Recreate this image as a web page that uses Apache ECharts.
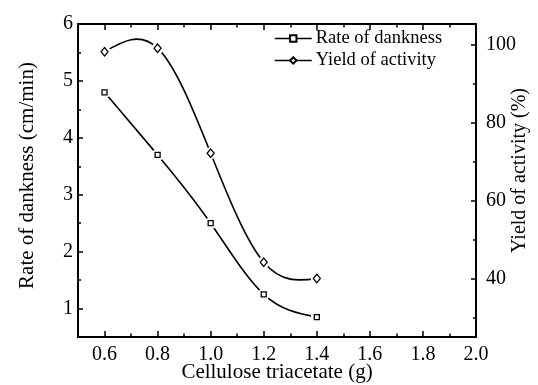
<!DOCTYPE html>
<html>
<head>
<meta charset="utf-8">
<script src="https://cdn.jsdelivr.net/npm/echarts@6/dist/echarts.min.js"></script>
<style>
  html, body { margin: 0; padding: 0; background: #fff; }
  #main { width: 538px; height: 385px; }
</style>
</head>
<body>
<div id="main"></div>
<script>
// cellulose triacetate amount (g)
const celluloseMass = [0.6, 0.8, 1.0, 1.2, 1.4];
// rate of dankness (cm/min), left axis
const rateOfDankness = [4.8, 3.7, 2.5, 1.25, 0.85];
// yield of activity (%), right axis
const yieldOfActivity = [98.3, 99.2, 72.2, 44.2, 40.0];

const xMajorTicks = [0.6, 0.8, 1.0, 1.2, 1.4, 1.6, 1.8, 2.0];
const leftMajorTicks = [1, 2, 3, 4, 5, 6];
const rightMajorTicks = [40, 60, 80, 100];
const rightMinorTicks = [30, 50, 70, 90];

const serif = 'Liberation Serif';
const ink = '#000';

const chartDom = document.getElementById('main');
const myChart = echarts.init(chartDom, null, { renderer: 'canvas' });

const pairs = (xs, ys) => xs.map((x, i) => [x, ys[i]]);

// natural cubic spline through pixel points, one bezier per segment
function splineSegments(pts) {
    const n = pts.length;
    const h = [], m = new Array(n).fill(0);
    for (let i = 0; i < n - 1; i++) h.push(pts[i + 1][0] - pts[i][0]);
    if (n > 2) {
        const a = [], b = [], c = [], d = [];
        for (let i = 1; i < n - 1; i++) {
            a.push(h[i - 1]);
            b.push(2 * (h[i - 1] + h[i]));
            c.push(h[i]);
            d.push(6 * ((pts[i + 1][1] - pts[i][1]) / h[i] - (pts[i][1] - pts[i - 1][1]) / h[i - 1]));
        }
        const k = b.length;
        for (let i = 1; i < k; i++) {
            const w = a[i] / b[i - 1];
            b[i] -= w * c[i - 1];
            d[i] -= w * d[i - 1];
        }
        m[k] = d[k - 1] / b[k - 1];
        for (let i = k - 2; i >= 0; i--) m[i + 1] = (d[i] - c[i] * m[i + 2]) / b[i];
    }
    const segs = [];
    for (let i = 0; i < n - 1; i++) {
        const [x0, y0] = pts[i], [x1, y1] = pts[i + 1], hi = h[i];
        const s = (y1 - y0) / hi;
        const d0 = s - hi * (2 * m[i] + m[i + 1]) / 6;
        const d1 = s + hi * (m[i] + 2 * m[i + 1]) / 6;
        segs.push({
            x1: x0, y1: y0, x2: x1, y2: y1,
            cpx1: x0 + hi / 3, cpy1: y0 + d0 * hi / 3,
            cpx2: x1 - hi / 3, cpy2: y1 - d1 * hi / 3
        });
    }
    return segs;
}

function curveSeries(name, ys, yAxisIndex) {
    return {
        name: name, type: 'custom', coordinateSystem: 'cartesian2d',
        xAxisIndex: 0, yAxisIndex: yAxisIndex, z: 1, silent: true,
        data: pairs(celluloseMass, ys),
        renderItem: function (params, api) {
            const i = params.dataIndex;
            if (i >= celluloseMass.length - 1) return;
            const pts = celluloseMass.map((x, j) => api.coord([x, ys[j]]));
            const seg = splineSegments(pts)[i];
            return {
                type: 'bezierCurve',
                shape: seg,
                style: { stroke: ink, lineWidth: 1.6, fill: null }
            };
        }
    };
}

// white halo under each marker, so the curve stops short of it
function haloSeries(name, ys, yAxisIndex) {
    return {
        name: name, type: 'scatter', xAxisIndex: 0, yAxisIndex: yAxisIndex, z: 2, silent: true,
        symbol: 'circle', symbolSize: 12,
        itemStyle: { color: '#fff', opacity: 1 },
        data: pairs(celluloseMass, ys)
    };
}

const axisLineStyle = { show: true, lineStyle: { color: ink, width: 2 } };
const hiddenLine = { show: false };

const option = {
    animation: false,
    backgroundColor: '#fff',
    grid: { left: 78, right: 62, top: 24, bottom: 48, containLabel: false, outerBoundsMode: 'none' },
    legend: {
        left: 269,
        top: 24,
        orient: 'vertical',
        itemGap: 3,
        itemWidth: 37,
        itemHeight: 8,
        lineStyle: { opacity: 1, color: ink, width: 1.5 },
        textStyle: { fontFamily: serif, fontSize: 18.5, color: ink, padding: [0, 0, 0, -1] },
        data: ['Rate of dankness', 'Yield of activity']
    },
    xAxis: [
        {
            type: 'value', position: 'bottom', min: 0.5, max: 2.0,
            axisLine: axisLineStyle,
            splitLine: { show: false },
            axisTick: { inside: true, length: 6, customValues: xMajorTicks, lineStyle: { color: ink, width: 1.5 } },
            axisLabel: {
                customValues: xMajorTicks, margin: 8,
                formatter: v => v.toFixed(1),
                fontFamily: serif, fontSize: 20, color: ink
            },
            name: 'Cellulose triacetate (g)', nameLocation: 'middle', nameGap: 25, nameMoveOverlap: false,
            nameTextStyle: { fontFamily: serif, fontSize: 21, color: ink }
        },
        {
            type: 'value', position: 'bottom', min: 0.5, max: 2.0, interval: 0.1,
            axisLine: hiddenLine, splitLine: { show: false }, axisLabel: { show: false },
            axisTick: { inside: true, length: 3.5, lineStyle: { color: ink, width: 1.5 } }
        },
        {
            type: 'value', position: 'top', min: 0.5, max: 2.0,
            axisLine: axisLineStyle, splitLine: { show: false }, axisLabel: { show: false },
            axisTick: { inside: true, length: 6, customValues: xMajorTicks, lineStyle: { color: ink, width: 1.5 } }
        },
        {
            type: 'value', position: 'top', min: 0.5, max: 2.0, interval: 0.1,
            axisLine: hiddenLine, splitLine: { show: false }, axisLabel: { show: false },
            axisTick: { inside: true, length: 3.5, lineStyle: { color: ink, width: 1.5 } }
        }
    ],
    yAxis: [
        {
            type: 'value', position: 'left', min: 0.5, max: 6,
            axisLine: axisLineStyle, splitLine: { show: false },
            axisTick: { inside: true, length: 5, customValues: leftMajorTicks, lineStyle: { color: ink, width: 1.5 } },
            axisLabel: { customValues: leftMajorTicks, margin: 5, fontFamily: serif, fontSize: 20, color: ink },
            name: 'Rate of dankness (cm/min)', nameLocation: 'middle', nameGap: 40, nameRotate: 90, nameMoveOverlap: false,
            nameTextStyle: { fontFamily: serif, fontSize: 21, color: ink, padding: [0, 0, 0, 10] }
        },
        {
            type: 'value', position: 'left', min: 0.5, max: 6, interval: 0.5,
            axisLine: hiddenLine, splitLine: { show: false }, axisLabel: { show: false },
            axisTick: { inside: true, length: 3, lineStyle: { color: ink, width: 1.5 } }
        },
        {
            type: 'value', position: 'right', min: 25, max: 105.4,
            axisLine: axisLineStyle, splitLine: { show: false },
            axisTick: { inside: true, length: 5, customValues: rightMajorTicks, lineStyle: { color: ink, width: 1.5 } },
            axisLabel: { customValues: rightMajorTicks, margin: 10, fontFamily: serif, fontSize: 20, color: ink },
            name: 'Yield of activity (%)', nameLocation: 'middle', nameGap: 34, nameRotate: 90, nameMoveOverlap: false,
            nameTextStyle: { fontFamily: serif, fontSize: 20, color: ink, padding: [0, 0, 0, 20] }
        },
        {
            type: 'value', position: 'right', min: 25, max: 105.4,
            axisLine: hiddenLine, splitLine: { show: false }, axisLabel: { show: false },
            axisTick: { inside: true, length: 3, customValues: rightMinorTicks, lineStyle: { color: ink, width: 1.5 } }
        }
    ],
    series: [
        curveSeries('rate curve', rateOfDankness, 0),
        curveSeries('yield curve', yieldOfActivity, 2),
        haloSeries('rate halo', rateOfDankness, 0),
        haloSeries('yield halo', yieldOfActivity, 2),
        {
            name: 'Rate of dankness', type: 'line', xAxisIndex: 0, yAxisIndex: 0, z: 3,
            symbol: 'rect', symbolSize: 5,
            itemStyle: { color: '#fff', borderColor: ink, borderWidth: 1.3 },
            lineStyle: { color: ink, width: 1.5, opacity: 0 },
            data: pairs(celluloseMass, rateOfDankness)
        },
        {
            name: 'Yield of activity', type: 'line', xAxisIndex: 0, yAxisIndex: 2, z: 3,
            symbol: 'diamond', symbolSize: [7, 8.5],
            itemStyle: { color: '#fff', borderColor: ink, borderWidth: 1.3 },
            lineStyle: { color: ink, width: 1.5, opacity: 0 },
            data: pairs(celluloseMass, yieldOfActivity)
        }
    ]
};

option && myChart.setOption(option);
</script>
</body>
</html>
